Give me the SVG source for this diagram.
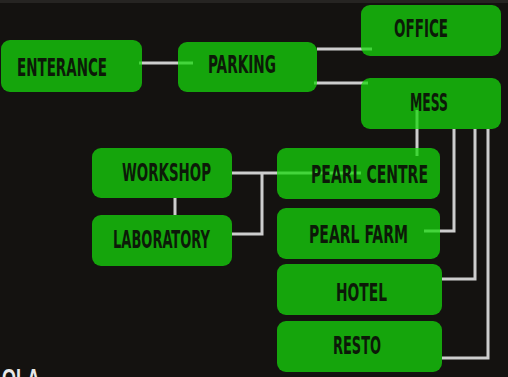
<svg xmlns="http://www.w3.org/2000/svg" width="508" height="377" viewBox="0 0 508 377">
<style>
.bg{fill:#141210}
.conn path{fill:none;stroke:#cdcdcd;stroke-width:3;stroke-linecap:butt;stroke-linejoin:miter}
.node rect{fill:#15d70b;fill-opacity:0.75}
.node text{font-family:"DejaVu Sans Condensed","DejaVu Sans",sans-serif;font-weight:bold;font-size:25px;fill:#0c1a08}
.foot{font-family:"Liberation Sans",Arial,sans-serif;font-weight:bold;font-size:25px;fill:#e8e8e8}
</style>
<rect class="bg" x="0" y="0" width="508" height="377"/>
<rect x="0" y="0" width="508" height="3" fill="#262422"/>
<g id="connectors" class="conn">
<path d="M139 63H193"/>
<path d="M317 49H372"/>
<path d="M314 83H368"/>
<path d="M417 110V156"/>
<path d="M454 129V231H424"/>
<path d="M475 129V279H442"/>
<path d="M488 129V358H442"/>
<path d="M232 173H361"/>
<path d="M262 173V234H232"/>
<path d="M175 198V215"/>
</g>
<g id="enterance" class="node"><rect x="1" y="40" width="141" height="52" rx="9"/><text x="17" y="76" textLength="90" lengthAdjust="spacingAndGlyphs">ENTERANCE</text></g>
<g id="parking" class="node"><rect x="178" y="42" width="139" height="50" rx="9"/><text x="208" y="73" textLength="68" lengthAdjust="spacingAndGlyphs">PARKING</text></g>
<g id="office" class="node"><rect x="361" y="5" width="140" height="51" rx="9"/><text x="394" y="37" textLength="54" lengthAdjust="spacingAndGlyphs">OFFICE</text></g>
<g id="mess" class="node"><rect x="361" y="78" width="140" height="51" rx="9"/><text x="410" y="111" textLength="38" lengthAdjust="spacingAndGlyphs">MESS</text></g>
<g id="pearl-centre" class="node"><rect x="277" y="148" width="163" height="51" rx="9"/><text x="311" y="183" textLength="117" lengthAdjust="spacingAndGlyphs">PEARL CENTRE</text></g>
<g id="pearl-farm" class="node"><rect x="277" y="208" width="163" height="51" rx="9"/><text x="309" y="243" textLength="99" lengthAdjust="spacingAndGlyphs">PEARL FARM</text></g>
<g id="hotel" class="node"><rect x="277" y="264" width="165" height="51" rx="9"/><text x="336" y="301" textLength="51" lengthAdjust="spacingAndGlyphs">HOTEL</text></g>
<g id="resto" class="node"><rect x="277" y="321" width="165" height="51" rx="9"/><text x="333" y="354" textLength="48" lengthAdjust="spacingAndGlyphs">RESTO</text></g>
<g id="workshop" class="node"><rect x="92" y="148" width="140" height="50" rx="9"/><text x="122" y="181" textLength="89" lengthAdjust="spacingAndGlyphs">WORKSHOP</text></g>
<g id="laboratory" class="node"><rect x="92" y="215" width="140" height="51" rx="9"/><text x="113" y="248" textLength="97" lengthAdjust="spacingAndGlyphs">LABORATORY</text></g>
<text class="foot" x="2" y="387" textLength="38" lengthAdjust="spacingAndGlyphs">OLA</text>
</svg>
